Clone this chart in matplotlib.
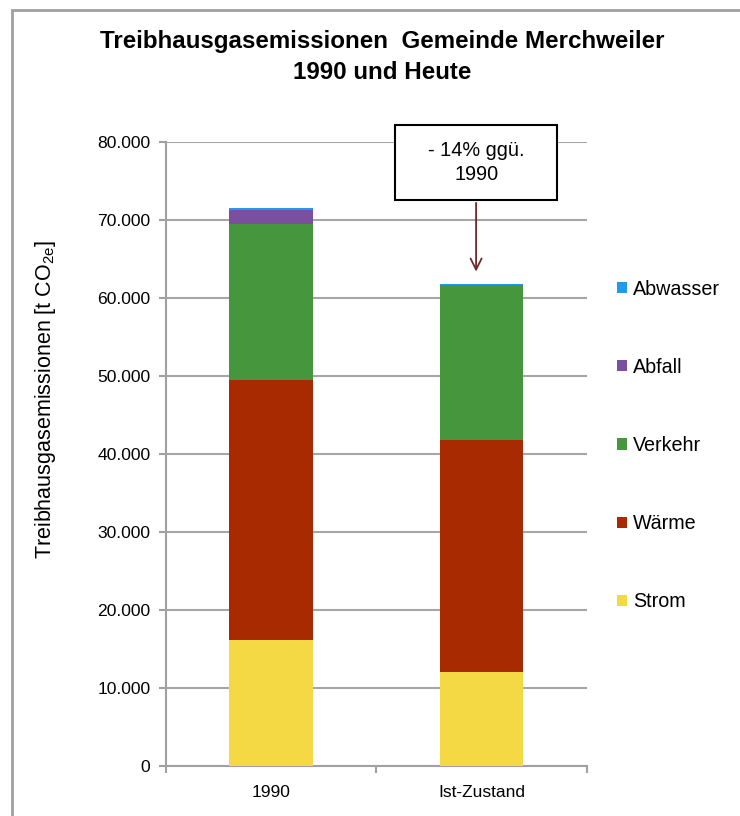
import matplotlib
matplotlib.use("Agg")
import matplotlib.pyplot as plt
from matplotlib.patches import Rectangle
from matplotlib.ticker import FuncFormatter

plt.rcParams['font.family'] = ['Liberation Sans', 'DejaVu Sans']
plt.rcParams['mathtext.default'] = 'regular'

# data (t CO2e)
categories = ["1990", "Ist-Zustand"]
strom = [16150, 12000]
waerme = [33300, 29770]
verkehr = [19990, 19900]
abfall = [1840, 0]
abwasser = [250, 150]

series = ["Strom", "Wärme", "Verkehr", "Abfall", "Abwasser"]
values = [strom, waerme, verkehr, abfall, abwasser]
colors = ["#F4D944", "#A82A00", "#46963E", "#7A509E", "#1E9BEB"]

fig = plt.figure(figsize=(7.4, 8.16), dpi=100)
ax = fig.add_axes([0.224, 0.0613, 0.569, 0.765])

x = list(range(len(categories)))
bottom = [0] * len(categories)
for name, vals, c in zip(series, values, colors):
    ax.bar(x, vals, width=0.395, bottom=bottom, color=c, label=name, zorder=3)
    bottom = [b + v for b, v in zip(bottom, vals)]

ax.set_xlim(-0.5, 1.5)
ax.set_ylim(0, 80000)
ax.set_yticks(range(0, 80001, 10000))
ax.yaxis.set_major_formatter(FuncFormatter(lambda v, p: "{:,.0f}".format(v).replace(",", ".")))
ax.set_xticks(x)
ax.set_xticklabels(categories)
ax.set_xticks([-0.5, 0.5, 1.5], minor=True)
ax.tick_params(axis='x', which='major', length=0, pad=14, labelsize=12.5)
ax.tick_params(axis='x', which='minor', length=5, width=1.5, color="#A0A0A0")
ax.tick_params(axis='y', length=5, width=1.5, color="#A0A0A0", labelsize=12.6, pad=6)

ax.grid(axis='y', color="#A6A6A6", linewidth=1.5, zorder=0)
for s in ["top", "right"]:
    ax.spines[s].set_visible(False)
for s in ["left", "bottom"]:
    ax.spines[s].set_color("#A0A0A0")
    ax.spines[s].set_linewidth(1.5)

ax.set_ylabel("Treibhausgasemissionen [t CO$_{2e}$]", fontsize=15.5)
ax.yaxis.set_label_coords(-0.255, 0.588)

# annotation box with arrow
ax.add_patch(Rectangle((0.589, 72530), 0.77, 9610, facecolor="white",
                       edgecolor="black", linewidth=1.5, clip_on=False, zorder=5))
ax.text(0.974, 77340, "- 14% ggü.\n1990", ha="center", va="center",
        fontsize=14.3, zorder=6, linespacing=1.3)
ax.annotate("", xy=(0.974, 63000), xytext=(0.974, 72530),
            arrowprops=dict(arrowstyle="->", color="#6E2B2B", lw=1.3,
                            mutation_scale=20), zorder=4)

# legend
handles, labels = ax.get_legend_handles_labels()
fig.legend(handles[::-1], labels[::-1], loc="center left",
           bbox_to_anchor=(0.834, 0.454), frameon=False, fontsize=14.2,
           labelspacing=3.0, handlelength=0.5, handleheight=0.5,
           handletextpad=0.3, borderpad=0, borderaxespad=0)

fig.text(0.517, 1 - 57 / 816, "Treibhausgasemissionen  Gemeinde Merchweiler\n1990 und Heute",
         ha="center", va="center", fontsize=17.4, fontweight="bold", linespacing=1.4)

# outer chart border (only left and top edges are visible)
fig.patches.append(Rectangle((12 / 740, -0.1), 1.2, 1 - 10 / 816 + 0.1,
                             transform=fig.transFigure, fill=False,
                             edgecolor="#A0A0A0", linewidth=2))

fig.savefig("out.png", dpi=100)
